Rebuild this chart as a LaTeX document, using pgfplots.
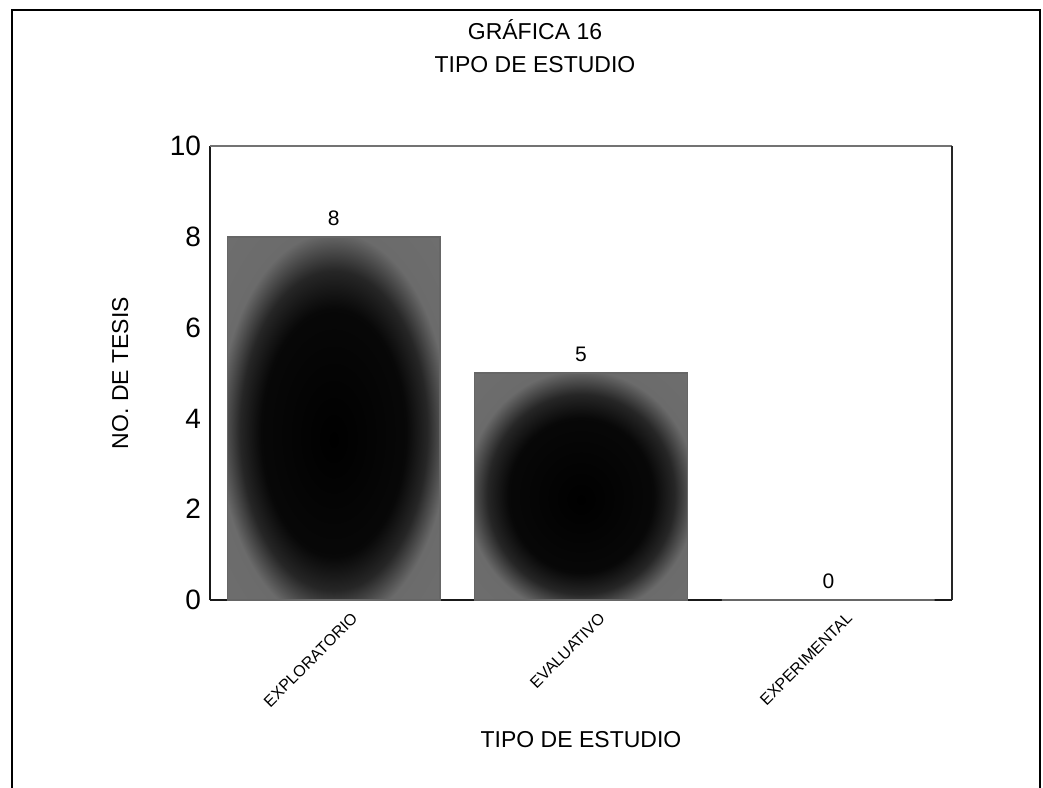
\documentclass[border=0pt]{standalone}
\usepackage{fontspec}
\setmainfont{Liberation Sans}
\usepackage{pgfplots}
\pgfplotsset{compat=1.18}
\pgfdeclareradialshading{barshade}{\pgfpoint{0bp}{-3bp}}{color(0bp)=(black); color(17bp)=(black!97); color(22bp)=(black!85); color(27bp)=(black!58); color(50bp)=(black!55)}
\begin{document}
\begin{tikzpicture}[x=1pt,y=1pt]
\useasboundingbox (0,0) rectangle (521.5,393.5);
\draw[line width=1pt] (6,-2) -- (6,388.5) -- (520,388.5) -- (520,-2);
\node[font=\fontsize{11.5}{13}\selectfont] at (267.5,378.5) {GRÁFICA 16};
\node[font=\fontsize{11.5}{13}\selectfont] at (267.5,361) {TIPO DE ESTUDIO};
\begin{axis}[
  at={(105pt,93.5pt)}, anchor=south west,
  scale only axis, width=371pt, height=227pt,
  ymin=0, ymax=10, ytick={0,2,4,6,8,10},
  xmin=-0.5, xmax=2.5, xtick={0,1,2},
  xticklabels={EXPLORATORIO,EVALUATIVO,EXPERIMENTAL},
  axis x line*=bottom, axis y line*=left,
  major tick length=0pt,
  /pgf/number format/assume math mode=true,
  yticklabel style={font=\fontsize{14}{16}\selectfont, xshift=-1pt},
  xticklabel style={font=\fontsize{8}{9}\selectfont, rotate=45, anchor=north east, inner sep=1pt, yshift=-9pt, xshift=3pt},
  axis line style={black!90, line width=0.7pt, -},
  ylabel={NO. DE TESIS},
  ylabel style={font=\fontsize{11.5}{13}\selectfont, at={(axis description cs:-0.121,0.5)}, anchor=center},
  xlabel={TIPO DE ESTUDIO},
  xlabel style={font=\fontsize{11.5}{13}\selectfont, at={(axis description cs:0.5,-0.308)}, anchor=center},
  ybar, bar width=0.86, bar shift=0pt,
  nodes near coords,
  every node near coord/.append style={font=\fontsize{10.5}{12}\selectfont, black, yshift=2pt},
  clip=false,
]
\addplot[draw=black!60, line width=0.8pt, shade, shading=barshade]
  coordinates {(0,8)};
\addplot[draw=black!60, line width=0.8pt, shade, shading=barshade]
  coordinates {(1,5)};
\addplot[draw=black!60, line width=0.8pt, fill=black]
  coordinates {(2,0)};
\draw[black!55, line width=0.6pt] (rel axis cs:0,1) -- (rel axis cs:1,1);
\draw[black!85, line width=0.6pt] (rel axis cs:1,1) -- (rel axis cs:1,0);
\end{axis}
\end{tikzpicture}
\end{document}
